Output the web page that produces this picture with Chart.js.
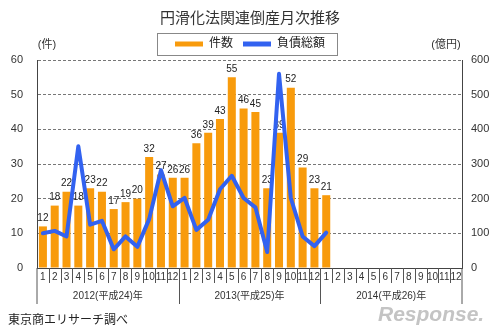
<!DOCTYPE html>
<html><head><meta charset="utf-8">
<script src="https://cdn.jsdelivr.net/npm/chart.js@4/dist/chart.umd.min.js"></script>
<style>html,body{margin:0;padding:0;background:#fff}#wrap{width:500px;height:333px}</style>
</head><body><div id="wrap"><canvas id="c" width="500" height="333"></canvas></div>
<script>
const chartTitle = '円滑化法関連倒産月次推移';
const seriesNames = ['件数', '負債総額'];
const monthLabels = ['1','2','3','4','5','6','7','8','9','10','11','12',
                     '1','2','3','4','5','6','7','8','9','10','11','12',
                     '1','2','3','4','5','6','7','8','9','10','11','12'];
const yearLabels = ['2012(平成24)年', '2013(平成25)年', '2014(平成26)年'];
// 件数 (left axis)
const countValues = [12,18,22,18,23,22,17,19,20,32,27,26,
                     26,36,39,43,55,46,45,23,39,52,29,23,
                     21];
// 負債総額 億円 (right axis)
const debtValues = [100,107,91,351,125,136,54,91,61,141,282,178,
                    202,110,139,227,266,202,175,46,560,202,91,63,
                    102];
const leftUnit = '(件)';
const rightUnit = '(億円)';
const sourceNote = '東京商エリサーチ調べ';
const watermark = 'Response.';

const FONT = "'Liberation Sans', 'Noto Sans CJK JP', sans-serif";
const ORANGE = '#F89B0C';
const BLUE = '#3262F0';

const decor = {
  id: 'decor',
  afterDatasetDraw(chart, args) {
    if (args.index !== 0) return;
    const ctx = chart.ctx;
    ctx.save();
    ctx.font = '10px ' + FONT;
    ctx.fillStyle = '#222';
    ctx.textAlign = 'center';
    ctx.textBaseline = 'bottom';
    args.meta.data.forEach((el, i) => {
      const v = countValues[i];
      if (v == null) return;
      ctx.fillText(String(v), el.x, el.y - 3);
    });
    ctx.restore();
  },
  afterDraw(chart) {
    const ctx = chart.ctx, a = chart.chartArea, x = chart.scales.x;
    ctx.save();
    ctx.strokeStyle = '#555';
    ctx.lineWidth = 1;
    const n = monthLabels.length;
    for (let i = 0; i <= n; i++) {
      let px;
      if (i === 0) px = a.left;
      else if (i === n) px = a.right;
      else px = Math.round((x.getPixelForValue(i - 1) + x.getPixelForValue(i)) / 2) + 0.5;
      const long = i % 12 === 0;
      ctx.beginPath();
      ctx.moveTo(px, a.bottom);
      ctx.lineTo(px, a.bottom + (long ? 36 : 15));
      ctx.stroke();
    }
    ctx.fillStyle = '#333';
    ctx.font = '10px ' + FONT;
    ctx.textAlign = 'center';
    ctx.textBaseline = 'middle';
    yearLabels.forEach((t, k) => {
      const cx = (x.getPixelForValue(k * 12) + x.getPixelForValue(k * 12 + 11)) / 2;
      ctx.fillText(t, cx, a.bottom + 28);
    });
    ctx.font = '11px ' + FONT;
    ctx.fillText(leftUnit, a.left + 10, 45);
    ctx.fillText(rightUnit, a.right - 16, 45);
    ctx.textAlign = 'left';
    ctx.font = '12px ' + FONT;
    ctx.fillStyle = '#222';
    ctx.fillText(sourceNote, 8, 321);
    ctx.font = 'italic bold 21px ' + FONT;
    ctx.fillStyle = '#c4c4c4';
    ctx.fillText(watermark, 378, 315);
    // legend frame
    const hb = chart.legend.legendHitBoxes;
    if (hb && hb.length) {
      const f = hb[0], l = hb[hb.length - 1];
      const x0 = Math.round(f.left - 18) + 0.5, x1 = Math.round(l.left + l.width + 12) + 0.5;
      const y0 = Math.round(f.top - 5) + 0.5, y1 = Math.round(f.top + f.height + 5) + 0.5;
      ctx.strokeStyle = '#888';
      ctx.strokeRect(x0, y0, x1 - x0, y1 - y0);
    }
    ctx.restore();
  }
};

new Chart(document.getElementById('c'), {
  data: {
    labels: monthLabels,
    datasets: [
      { type: 'bar', label: seriesNames[0], data: countValues, yAxisID: 'y',
        backgroundColor: ORANGE, borderWidth: 0, order: 1,
        categoryPercentage: 1.0, barPercentage: 0.68 },
      { type: 'line', label: seriesNames[1], data: debtValues, yAxisID: 'y1',
        borderColor: BLUE, backgroundColor: BLUE, borderWidth: 4, pointRadius: 0,
        tension: 0, borderJoinStyle: 'round', borderCapStyle: 'round', order: 0 }
    ]
  },
  options: {
    responsive: false,
    animation: false,
    devicePixelRatio: 1,
    layout: { padding: { top: 0, bottom: 50, left: 0, right: 0 } },
    plugins: {
      title: { display: true, text: chartTitle, color: '#333',
               font: { size: 15, weight: 'normal', family: FONT },
               padding: { top: 10, bottom: 0 } },
      legend: {
        display: true,
        labels: {
          color: '#222', font: { size: 12, family: FONT }, boxWidth: 28, boxHeight: 5, padding: 10,
          generateLabels(chart) {
            const items = Chart.defaults.plugins.legend.labels.generateLabels(chart);
            items.forEach(it => {
              const c = it.datasetIndex === 0 ? ORANGE : BLUE;
              it.fillStyle = c; it.strokeStyle = c; it.lineWidth = 0;
            });
            return items.sort((p, q) => p.datasetIndex - q.datasetIndex);
          }
        }
      },
      tooltip: { enabled: false }
    },
    scales: {
      x: {
        grid: { display: false, drawTicks: false },
        border: { display: true, color: '#444' },
        ticks: { color: '#333', font: { size: 10, family: FONT }, padding: 3, maxRotation: 0, autoSkip: false },
        afterFit(s) { s.height = 15; }
      },
      y: {
        position: 'left', min: 0, max: 60,
        ticks: { stepSize: 10, color: '#333', font: { size: 11, family: FONT }, padding: 14 },
        grid: { color: '#777', drawTicks: false },
        border: { display: true, color: '#444', dash: [3, 2] },
        afterFit(s) { s.width = 37; }
      },
      y1: {
        position: 'right', min: 0, max: 600,
        ticks: { stepSize: 100, color: '#333', font: { size: 11, family: FONT }, padding: 9 },
        grid: { display: false, drawOnChartArea: false, drawTicks: false },
        border: { display: true, color: '#444' },
        afterFit(s) { s.width = 38; }
      }
    }
  },
  plugins: [decor]
});
</script>
</body></html>
